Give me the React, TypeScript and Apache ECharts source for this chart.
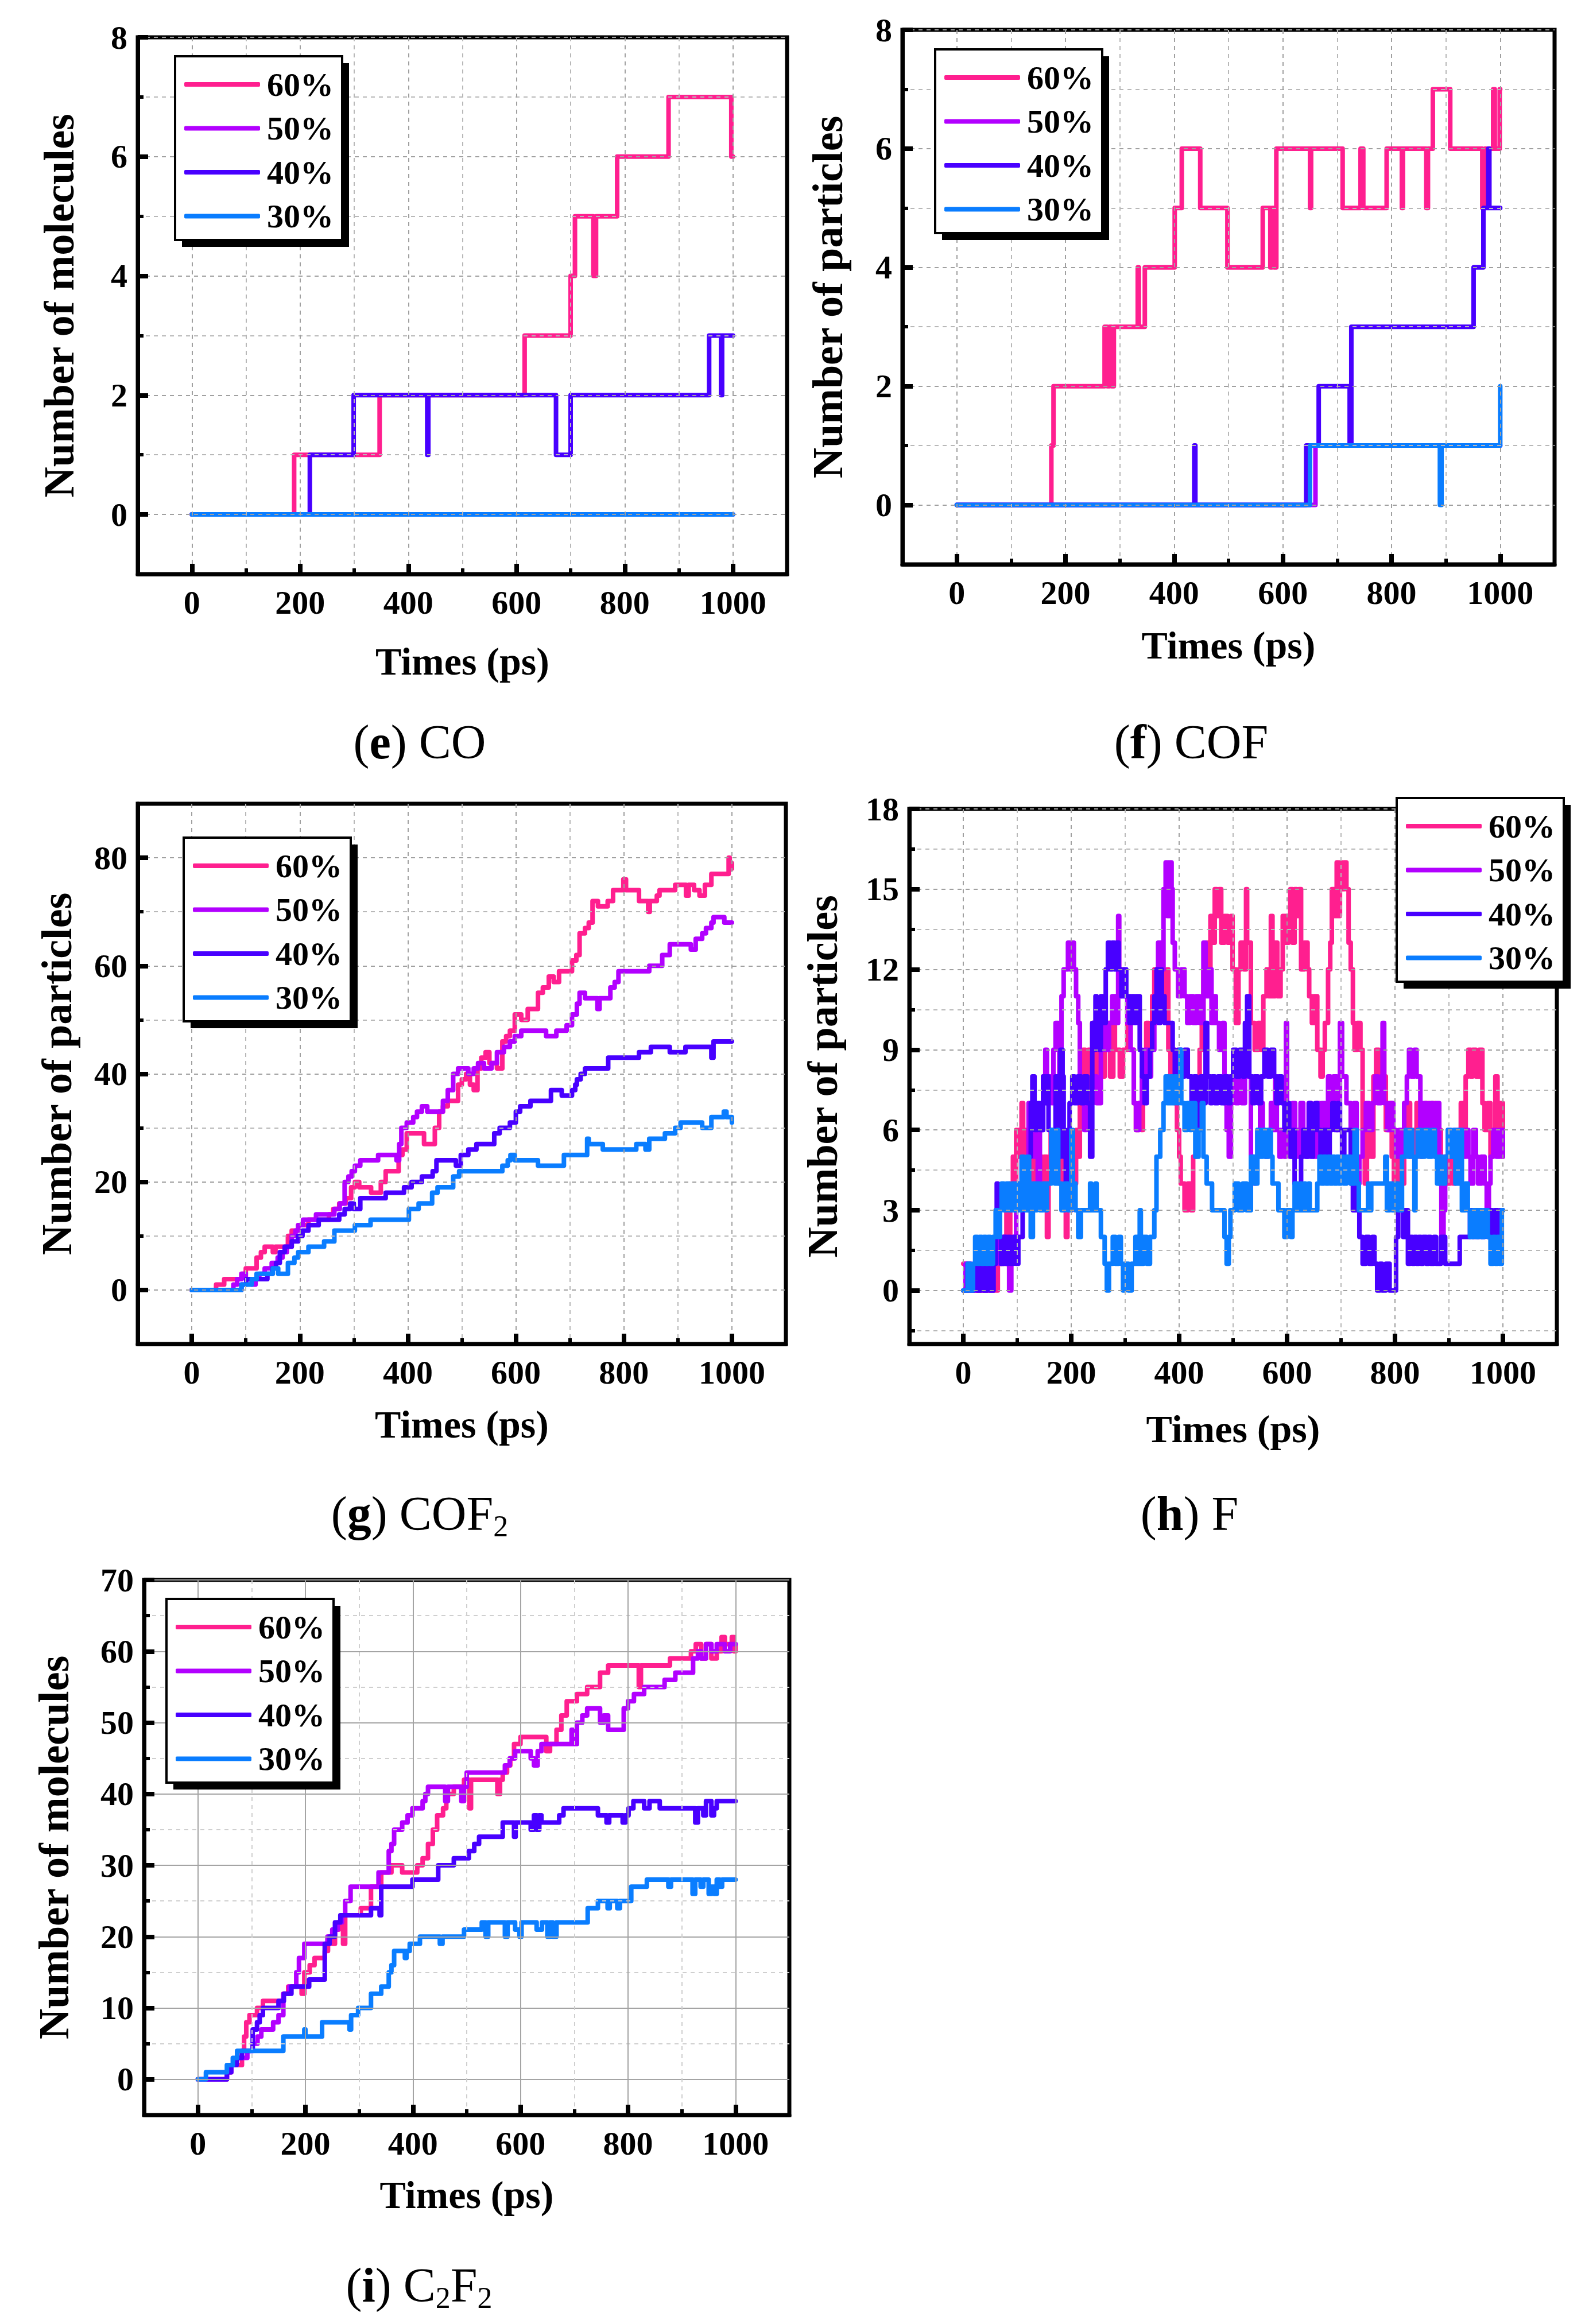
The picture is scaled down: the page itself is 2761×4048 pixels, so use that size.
import React, { useEffect, useRef } from 'react';
import * as echarts from 'echarts';

const FONT = "'Liberation Serif', 'Times New Roman', Times, serif";

// ---- categories / legend ----
const SERIES_NAMES = ['60%', '50%', '40%', '30%'];
const SERIES_COLORS = ['#ff1f8f', '#b200ff', '#4800ff', '#0a7dff'];

// ---- tick values ----
const X_TICKS = [0, 100, 200, 300, 400, 500, 600, 700, 800, 900, 1000];
const X_LABELS = [0, 200, 400, 600, 800, 1000];
const Y8_TICKS = [0, 1, 2, 3, 4, 5, 6, 7, 8];
const Y8_LABELS = [0, 2, 4, 6, 8];
const Y90_TICKS = [0, 10, 20, 30, 40, 50, 60, 70, 80];
const Y90_LABELS = [0, 20, 40, 60, 80];
const Y18_TICKS = [-1.5, 0, 1.5, 3, 4.5, 6, 7.5, 9, 10.5, 12, 13.5, 15, 16.5, 18];
const Y18_LABELS = [0, 3, 6, 9, 12, 15, 18];
const Y70_TICKS = [0, 5, 10, 15, 20, 25, 30, 35, 40, 45, 50, 55, 60, 65, 70];
const Y70_LABELS = [0, 10, 20, 30, 40, 50, 60, 70];

// ---- (e) CO ----
const CO_60 = [[0,0],[189,1],[347,2],[615,3],[700,4],[708,5],[742,4],[747,5],[786,6],[881,7],[997,6],[1000,6]];
const CO_50 = [[0,0],[1000,0]];
const CO_40 = [[0,0],[218,1],[299,2],[435,1],[437,2],[673,1],[700,2],[956,3],[978,2],[980,3],[1000,3]];
const CO_30 = [[0,0],[1000,0]];

// ---- (f) COF ----
const COF_60 = [[0,0],[174,1],[178,2],[272,3],[277,2],[281,3],[285,2],[289,3],[333,4],[335,3],[346,4],[401,5],[414,6],[448,5],[498,4],[563,5],[577,4],[580,5],[584,4],[588,6],[650,5],[652,6],[710,5],[743,6],[748,5],[791,6],[819,5],[821,6],[864,5],[867,6],[876,7],[908,6],[967,5],[972,6],[987,7],[990,6],[999,7],[1000,7]];
const COF_50 = [[0,0],[660,1],[1000,1]];
const COF_40 = [[0,0],[437,1],[439,0],[643,1],[666,2],[723,1],[726,3],[951,4],[969,5],[978,6],[980,5],[1000,5]];
const COF_30 = [[0,0],[650,1],[889,0],[892,1],[1000,2]];

// ---- (g) COF2 ----
const COF2_60 = [[0,0],[45,1],[60,2],[80,2],[92,3],[100,4],[111,4],[120,6],[128,7],[135,8],[150,7],[155,8],[178,10],[185,11],[197,12],[216,13],[240,13],[254,14],[262,15],[273,16],[285,17],[295,19],[302,20],[310,19],[321,19],[332,18],[340,18],[350,20],[359,22],[370,22],[383,25],[390,26],[398,29],[407,29],[420,29],[430,27],[436,27],[450,30],[458,33],[465,34],[474,35],[483,35],[493,38],[500,39],[508,40],[515,38],[522,37],[529,41],[536,43],[544,44],[551,42],[565,41],[575,46],[582,47],[589,48],[598,51],[610,50],[622,52],[632,52],[641,55],[650,56],[661,58],[670,57],[680,59],[695,59],[704,61],[712,62],[718,66],[728,67],[735,68],[742,72],[752,71],[761,71],[770,72],[780,74],[794,74],[799,76],[804,74],[815,74],[828,72],[840,72],[845,70],[848,72],[861,73],[866,74],[880,74],[895,75],[905,75],[915,73],[920,75],[930,74],[940,73],[950,75],[962,77],[980,77],[990,77],[994,80],[996,78],[1000,79]];
const COF2_50 = [[0,0],[77,1],[84,2],[92,3],[100,2],[111,1],[118,2],[125,3],[135,4],[148,5],[159,6],[168,7],[176,8],[185,10],[192,11],[197,12],[206,13],[216,13],[230,14],[254,14],[264,15],[274,16],[283,20],[290,21],[296,22],[302,23],[312,24],[331,24],[345,25],[370,25],[379,24],[384,27],[388,30],[398,31],[410,32],[417,33],[426,34],[436,33],[455,33],[465,35],[474,37],[484,40],[493,41],[512,40],[522,41],[530,42],[541,41],[555,42],[565,44],[578,45],[589,46],[598,47],[610,48],[640,48],[656,47],[675,48],[694,49],[704,51],[713,53],[718,55],[728,54],[745,54],[751,52],[755,54],[775,56],[783,57],[790,59],[799,59],[820,59],[847,60],[871,62],[885,64],[924,63],[933,65],[945,66],[952,67],[962,68],[966,69],[981,69],[986,68],[1000,68]];
const COF2_40 = [[0,0],[92,1],[101,2],[140,3],[149,4],[156,5],[163,7],[172,8],[185,9],[197,10],[205,11],[216,12],[235,13],[255,13],[273,14],[283,15],[293,16],[300,15],[312,17],[359,18],[393,19],[407,20],[426,21],[446,22],[453,24],[460,24],[480,24],[489,23],[498,25],[512,26],[527,27],[560,29],[570,30],[589,31],[600,33],[608,34],[627,35],[665,37],[685,36],[704,37],[710,38],[713,39],[720,40],[728,41],[771,43],[828,44],[850,45],[885,44],[914,45],[962,43],[966,46],[1000,46]];
const COF2_30 = [[0,0],[92,1],[111,2],[120,3],[140,3],[150,4],[160,3],[178,5],[190,6],[197,7],[216,8],[245,9],[264,11],[302,12],[331,13],[402,15],[420,16],[436,16],[445,18],[455,19],[484,21],[495,22],[575,23],[585,24],[590,25],[598,24],[641,23],[689,25],[732,28],[735,27],[761,26],[823,27],[840,26],[847,28],[876,29],[895,30],[905,31],[924,31],[945,30],[962,32],[985,33],[990,32],[1000,31]];

// ---- (h) F ----
const F_60 = [[0,1],[6,0],[48,1],[58,0],[64,1],[71,2],[76,1],[80,3],[84,2],[87,4],[92,5],[96,4],[98,6],[104,5],[108,7],[111,5],[113,6],[120,5],[126,4],[132,5],[136,4],[140,5],[146,4],[150,5],[155,2],[158,5],[162,6],[168,5],[174,6],[178,4],[184,5],[190,2],[193,3],[201,5],[205,4],[209,6],[214,5],[216,7],[222,9],[226,8],[232,9],[236,7],[239,10],[244,8],[251,9],[256,8],[262,9],[266,10],[272,8],[278,10],[281,9],[290,8],[296,9],[304,10],[310,9],[316,7],[320,6],[325,7],[330,6],[333,8],[339,10],[344,9],[350,11],[354,12],[360,11],[366,12],[372,11],[378,12],[380,9],[384,8],[388,9],[392,7],[396,6],[400,5],[403,4],[410,3],[416,4],[422,3],[426,5],[432,6],[438,9],[442,10],[445,12],[450,13],[455,12],[458,14],[461,13],[466,15],[470,14],[474,15],[478,13],[484,14],[490,13],[496,14],[499,12],[505,10],[510,12],[514,13],[520,12],[524,15],[526,13],[533,10],[540,9],[546,10],[552,9],[556,11],[562,12],[566,11],[570,14],[573,11],[578,13],[582,11],[588,12],[592,14],[598,13],[603,14],[606,15],[610,13],[614,15],[618,14],[622,15],[626,12],[632,13],[638,12],[641,11],[646,10],[650,11],[656,9],[662,8],[666,9],[670,10],[676,12],[680,13],[683,15],[688,14],[692,16],[695,14],[698,16],[702,15],[706,16],[710,15],[714,13],[718,12],[722,10],[725,9],[730,10],[736,9],[740,6],[744,4],[748,5],[752,6],[756,5],[760,8],[765,9],[770,8],[776,9],[780,8],[783,6],[788,7],[794,5],[798,4],[805,5],[810,4],[817,6],[822,7],[828,5],[834,6],[840,7],[846,5],[851,6],[856,7],[862,6],[868,7],[874,5],[878,6],[885,4],[890,5],[896,4],[902,5],[908,4],[912,5],[916,6],[922,7],[926,6],[931,8],[936,9],[940,8],[944,9],[950,8],[956,9],[962,7],[966,6],[972,7],[977,5],[981,6],[986,8],[990,6],[994,7],[998,5],[1000,7]];
const F_50 = [[0,0],[4,1],[10,0],[56,1],[62,2],[68,1],[75,2],[80,1],[85,0],[89,1],[92,2],[98,3],[104,4],[108,3],[114,4],[117,3],[121,7],[124,6],[129,5],[134,6],[138,4],[142,6],[148,8],[152,9],[155,7],[160,8],[164,7],[167,9],[171,10],[176,9],[178,8],[182,11],[186,12],[194,13],[198,12],[201,13],[205,12],[209,11],[213,10],[216,8],[220,7],[224,6],[228,7],[232,6],[235,7],[240,8],[247,7],[255,9],[260,10],[266,9],[270,10],[276,11],[282,10],[287,14],[289,11],[294,12],[298,11],[304,10],[310,9],[316,7],[320,6],[326,7],[331,8],[336,9],[342,8],[348,9],[354,10],[358,11],[361,13],[366,12],[371,15],[375,16],[378,14],[382,16],[386,15],[388,13],[392,12],[398,11],[404,12],[410,11],[415,10],[420,11],[426,10],[432,11],[438,10],[445,13],[449,11],[455,12],[460,10],[465,11],[468,10],[474,9],[480,10],[484,7],[488,6],[492,5],[496,7],[499,8],[505,7],[510,8],[516,7],[522,9],[528,8],[533,5],[538,4],[542,5],[545,6],[550,7],[555,6],[560,5],[565,6],[570,7],[573,6],[578,8],[581,6],[586,5],[590,6],[595,5],[598,10],[600,6],[605,5],[610,7],[615,6],[620,5],[625,7],[630,6],[636,5],[640,7],[645,6],[650,5],[655,7],[660,6],[664,7],[670,6],[676,8],[680,7],[686,8],[692,6],[698,10],[702,8],[710,7],[718,6],[724,7],[729,4],[734,5],[740,6],[746,7],[752,6],[758,7],[763,8],[768,7],[774,8],[777,10],[780,7],[786,6],[792,7],[797,6],[802,5],[808,6],[812,5],[817,7],[822,8],[826,9],[830,8],[836,9],[840,8],[847,6],[852,7],[858,6],[864,7],[870,6],[876,7],[882,4],[886,2],[890,3],[893,5],[898,6],[904,5],[910,6],[916,5],[922,6],[928,5],[931,6],[936,5],[940,4],[945,6],[950,5],[954,4],[960,5],[966,4],[970,3],[974,4],[977,5],[982,6],[988,5],[994,6],[1000,5]];
const F_40 = [[0,0],[8,1],[14,0],[20,1],[26,0],[32,1],[38,0],[44,1],[50,0],[56,1],[60,2],[62,4],[64,2],[70,1],[75,2],[79,1],[83,2],[88,1],[93,2],[98,1],[102,2],[110,3],[114,4],[118,3],[121,5],[125,7],[128,8],[132,6],[138,7],[142,6],[148,8],[152,7],[155,8],[158,6],[163,5],[167,6],[171,8],[175,7],[178,5],[180,9],[184,8],[186,5],[190,4],[193,6],[197,7],[202,8],[206,7],[212,8],[218,7],[224,8],[230,7],[235,5],[239,10],[243,9],[245,11],[247,10],[252,9],[255,11],[258,10],[264,12],[268,13],[272,12],[276,13],[280,12],[284,13],[288,12],[293,11],[298,12],[302,11],[308,10],[312,11],[316,10],[320,11],[327,9],[331,8],[336,7],[340,8],[346,9],[350,10],[354,11],[358,12],[362,10],[365,12],[368,11],[373,10],[388,9],[392,8],[398,9],[404,8],[410,9],[416,8],[423,7],[428,8],[432,6],[436,7],[440,8],[445,7],[449,10],[452,8],[458,7],[461,8],[466,7],[472,8],[478,7],[484,8],[490,7],[495,8],[500,9],[506,8],[512,9],[518,8],[522,10],[526,11],[530,8],[536,7],[540,8],[546,7],[552,8],[558,9],[564,8],[570,9],[576,8],[580,7],[585,8],[590,7],[595,6],[600,7],[604,6],[607,5],[611,6],[614,4],[618,3],[622,4],[626,5],[630,6],[634,5],[638,6],[641,7],[644,5],[648,6],[652,7],[656,6],[662,5],[668,6],[674,5],[679,6],[684,7],[688,6],[694,7],[698,6],[702,5],[706,6],[718,4],[722,3],[726,4],[729,3],[734,2],[740,1],[746,2],[752,1],[758,2],[762,1],[767,0],[772,1],[776,0],[783,1],[790,0],[802,2],[806,3],[815,2],[818,3],[824,1],[828,2],[832,1],[836,2],[840,1],[844,2],[848,1],[852,2],[858,1],[862,2],[866,1],[872,2],[876,1],[885,2],[893,1],[920,2],[939,3],[944,2],[948,3],[952,2],[956,3],[960,2],[966,3],[972,2],[976,3],[980,2],[985,3],[990,2],[995,3],[1000,3]];
const F_30 = [[0,0],[8,1],[12,0],[18,1],[22,2],[26,1],[30,2],[34,1],[38,2],[42,1],[46,2],[50,1],[55,2],[60,3],[64,2],[68,3],[71,4],[75,3],[80,4],[85,3],[90,4],[94,3],[98,4],[102,3],[108,5],[112,4],[115,3],[118,5],[122,4],[125,2],[129,4],[133,3],[136,4],[142,3],[148,4],[152,3],[155,4],[163,6],[166,5],[170,4],[174,6],[176,4],[182,3],[188,4],[194,3],[200,6],[203,4],[208,3],[213,2],[218,3],[235,4],[237,3],[245,4],[247,3],[255,2],[262,1],[266,0],[270,1],[277,2],[282,1],[288,2],[292,1],[296,0],[300,1],[306,0],[312,1],[319,2],[322,1],[327,3],[329,1],[334,2],[340,1],[346,2],[354,3],[358,5],[365,6],[371,7],[375,8],[380,7],[385,8],[388,7],[392,8],[396,7],[400,8],[402,9],[404,7],[410,6],[415,7],[420,6],[423,7],[430,5],[436,6],[442,7],[445,5],[451,4],[461,3],[484,2],[488,1],[492,2],[495,3],[503,4],[510,3],[518,4],[525,3],[533,5],[540,4],[545,6],[550,5],[555,6],[560,5],[565,6],[570,5],[573,4],[584,3],[595,2],[600,3],[607,2],[610,3],[614,4],[618,3],[625,4],[627,3],[632,4],[634,3],[640,4],[642,3],[656,4],[660,5],[664,4],[668,5],[672,4],[676,5],[680,4],[684,5],[688,4],[692,5],[696,4],[700,5],[705,4],[710,5],[718,4],[725,6],[729,4],[733,3],[750,4],[752,3],[756,4],[782,5],[785,3],[790,4],[795,3],[800,4],[806,3],[813,5],[820,6],[824,5],[828,6],[832,5],[836,3],[838,5],[842,6],[848,5],[855,6],[862,5],[868,6],[874,5],[878,4],[883,5],[888,4],[893,5],[898,6],[903,5],[908,6],[912,4],[918,6],[924,3],[930,4],[935,3],[939,2],[945,3],[950,2],[955,3],[960,2],[965,3],[972,2],[977,1],[982,2],[986,1],[990,2],[994,1],[998,3],[1000,3]];

// ---- (i) C2F2 ----
const C2F2_60 = [[0,0],[54,1],[62,2],[82,4],[86,6],[90,8],[96,9],[110,10],[121,11],[159,12],[168,13],[193,12],[198,15],[208,16],[217,17],[236,18],[242,20],[250,19],[255,21],[262,22],[270,19],[274,23],[303,24],[322,27],[341,29],[360,30],[380,29],[408,30],[418,31],[428,33],[437,35],[445,37],[456,38],[462,40],[476,41],[495,42],[505,38],[508,42],[557,40],[562,42],[567,43],[575,44],[581,45],[588,47],[600,48],[648,46],[655,47],[667,49],[676,51],[686,53],[705,54],[724,55],[748,57],[763,58],[820,55],[824,58],[878,59],[917,60],[926,61],[936,59],[945,61],[955,59],[965,60],[974,62],[980,61],[993,62],[997,60],[1000,61]];
const C2F2_50 = [[0,0],[54,1],[62,2],[72,3],[92,4],[102,5],[111,6],[118,7],[140,8],[150,9],[159,12],[170,13],[183,15],[188,17],[198,19],[241,20],[250,21],[260,22],[268,23],[274,25],[284,27],[336,29],[355,32],[360,33],[365,35],[380,36],[390,37],[399,38],[418,39],[423,40],[428,41],[460,39],[465,41],[490,39],[495,41],[500,43],[571,44],[580,45],[590,46],[619,45],[625,44],[632,46],[639,47],[695,49],[698,47],[705,50],[715,51],[724,52],[748,50],[755,51],[763,49],[792,52],[800,53],[811,54],[830,55],[868,56],[888,57],[921,59],[930,60],[936,59],[945,61],[955,60],[965,61],[980,60],[990,61],[1000,61]];
const C2F2_40 = [[0,0],[54,1],[62,2],[72,3],[82,4],[102,7],[110,8],[115,9],[121,10],[150,11],[160,12],[174,13],[207,14],[236,19],[245,20],[255,22],[265,23],[322,24],[338,23],[341,27],[399,28],[447,30],[476,31],[504,32],[514,33],[523,34],[567,36],[588,34],[591,36],[619,35],[625,37],[630,35],[635,37],[639,36],[672,37],[680,38],[744,37],[760,36],[765,37],[790,36],[795,37],[801,38],[810,39],[830,38],[840,39],[859,38],[917,38],[925,36],[930,38],[940,37],[945,39],[955,37],[960,38],[965,39],[1000,39]];
const C2F2_30 = [[0,0],[15,1],[54,2],[65,3],[73,4],[159,6],[198,7],[200,6],[231,8],[282,7],[285,9],[298,10],[322,12],[341,13],[355,15],[360,16],[365,18],[385,17],[388,18],[394,19],[413,20],[450,19],[455,20],[495,21],[528,22],[535,20],[540,22],[571,20],[576,22],[590,21],[598,20],[602,22],[630,21],[640,22],[650,20],[655,22],[660,20],[667,22],[725,24],[744,25],[762,24],[766,25],[780,24],[785,25],[806,27],[835,28],[875,27],[880,28],[920,26],[925,28],[935,27],[940,28],[950,26],[955,27],[960,26],[965,28],[970,27],[975,28],[1000,28]];

const CAPTION_RICH = {
  p: { fontSize: 84, fontFamily: FONT, fontWeight: 'normal', lineHeight: 100, fill: '#000', color: '#000' },
  b: { fontSize: 84, fontFamily: FONT, fontWeight: 'bold', lineHeight: 100, fill: '#000', color: '#000' },
  s: { fontSize: 52, fontFamily: FONT, fontWeight: 'normal', lineHeight: 56, padding: [44, 0, 0, 0], fill: '#000', color: '#000' },
};

const PANELS = [
  { l: 240, t: 65, r: 1371, b: 1000, yMin: -1, yMax: 8, yTicks: Y8_TICKS, yLabels: Y8_LABELS, yName: 'Number of molecules', yGap: 100, xGap: 118,
    data: [CO_60, CO_50, CO_40, CO_30], box: [305, 98], caption: '{p|(}{b|e}{p|) CO}', cap: [731, 1292], solid: false },
  { l: 1572, t: 52, r: 2708, b: 983, yMin: -1, yMax: 8, yTicks: Y8_TICKS, yLabels: Y8_LABELS, yName: 'Number of particles', yGap: 93, xGap: 107,
    data: [COF_60, COF_50, COF_40, COF_30], box: [1629, 86], caption: '{p|(}{b|f}{p|) COF}', cap: [2075, 1292], solid: false },
  { l: 240, t: 1400, r: 1369, b: 2341, yMin: -10, yMax: 90, yTicks: Y90_TICKS, yLabels: Y90_LABELS, yName: 'Number of particles', yGap: 104, xGap: 106,
    data: [COF2_60, COF2_50, COF2_40, COF2_30], box: [320, 1459], caption: '{p|(}{b|g}{p|) COF}{s|2}', cap: [731, 2636], solid: false },
  { l: 1584, t: 1409, r: 2712, b: 2341, yMin: -2, yMax: 18, yTicks: Y18_TICKS, yLabels: Y18_LABELS, yName: 'Number of particles', yGap: 114, xGap: 114,
    data: [F_60, F_50, F_40, F_30], box: [2433, 1390], caption: '{p|(}{b|h}{p|) F}', cap: [2072, 2636], solid: false },
  { l: 251, t: 2752, r: 1375, b: 3684, yMin: -5, yMax: 70, yTicks: Y70_TICKS, yLabels: Y70_LABELS, yName: 'Number of molecules', yGap: 120, xGap: 105,
    data: [C2F2_60, C2F2_50, C2F2_40, C2F2_30], box: [290, 2785], caption: '{p|(}{b|i}{p|) C}{s|2}{p|F}{s|2}', cap: [730, 3980], solid: true },
];

const BOX_W = 291;
const BOX_H = 320;

function buildOption() {
  const grid: any[] = [];
  const xAxis: any[] = [];
  const yAxis: any[] = [];
  const series: any[] = [];
  const legend: any[] = [];
  const graphic: any[] = [];
  const labelFont = { fontSize: 58, fontWeight: 'bold', fontFamily: FONT, color: '#000' };
  const fmt = (v: number) => String(v);

  PANELS.forEach((p, gi) => {
    grid.push({ left: p.l, top: p.t, width: p.r - p.l, height: p.b - p.t, show: true, borderColor: '#000', borderWidth: 7, backgroundColor: 'transparent', containLabel: false });
    const minorSplit = p.solid
      ? { show: true, lineStyle: { color: '#cfcfcf', width: 2, type: [7, 7] } }
      : { show: true, lineStyle: { color: '#b8b8b8', width: 2, type: [7, 7] } };
    const majorSplit = p.solid
      ? { show: true, lineStyle: { color: '#a4a4a4', width: 2, type: 'solid' } }
      : { show: true, lineStyle: { color: '#a0a0a0', width: 2, type: [7, 7] } };
    // main x axis
    xAxis.push({
      type: 'value', gridIndex: gi, min: -100, max: 1100, position: 'bottom',
      name: 'Times (ps)', nameLocation: 'middle', nameGap: p.xGap,
      nameTextStyle: { fontSize: 68, fontWeight: 'bold', fontFamily: FONT, color: '#000', lineHeight: 68 },
      axisLine: { show: true, onZero: false, lineStyle: { color: '#000', width: 7 } },
      axisTick: { show: true, inside: true, length: 10, customValues: X_TICKS, lineStyle: { color: '#000', width: 6 } },
      axisLabel: { show: true, customValues: X_LABELS, margin: 20, formatter: fmt, ...labelFont },
      splitLine: minorSplit, z: 3,
    });
    // major tick overlay x
    xAxis.push({
      type: 'value', gridIndex: gi, min: -100, max: 1100, position: 'bottom',
      axisLine: { show: false, onZero: false },
      axisTick: { show: true, inside: true, length: 18, customValues: X_LABELS, lineStyle: { color: '#000', width: 8 } },
      axisLabel: { show: false },
      splitLine: majorSplit, z: 3,
    });
    yAxis.push({
      type: 'value', gridIndex: gi, min: p.yMin, max: p.yMax, position: 'left',
      name: p.yName, nameLocation: 'middle', nameGap: p.yGap,
      nameTextStyle: { fontSize: 74, fontWeight: 'bold', fontFamily: FONT, color: '#000', lineHeight: 74 },
      axisLine: { show: true, onZero: false, lineStyle: { color: '#000', width: 7 } },
      axisTick: { show: true, inside: true, length: 10, customValues: p.yTicks, lineStyle: { color: '#000', width: 6 } },
      axisLabel: { show: true, customValues: p.yLabels, margin: 18, formatter: fmt, ...labelFont },
      splitLine: minorSplit, z: 3,
    });
    yAxis.push({
      type: 'value', gridIndex: gi, min: p.yMin, max: p.yMax, position: 'left', offset: 0,
      axisLine: { show: false, onZero: false },
      axisTick: { show: true, inside: true, length: 18, customValues: p.yLabels, lineStyle: { color: '#000', width: 8 } },
      axisLabel: { show: false },
      splitLine: majorSplit, z: 3,
    });
    p.data.forEach((d, si) => {
      series.push({
        type: 'line', name: SERIES_NAMES[si], xAxisIndex: gi * 2, yAxisIndex: gi * 2,
        data: d, step: 'end', symbol: 'none', showSymbol: false,
        color: SERIES_COLORS[si], itemStyle: { color: SERIES_COLORS[si] },
        lineStyle: { color: SERIES_COLORS[si], width: 8, cap: 'round', join: 'round' }, z: 2 + si * 0.01,
      });
    });
    const [bx, by] = p.box;
    graphic.push({ type: 'rect', z: 5, shape: { x: bx + 12, y: by + 12, width: BOX_W, height: BOX_H }, style: { fill: '#000' } });
    graphic.push({ type: 'rect', z: 6, shape: { x: bx, y: by, width: BOX_W, height: BOX_H }, style: { fill: '#fff', stroke: '#000', lineWidth: 4 } });
    legend.push({
      show: true, orient: 'vertical', left: bx + 16, top: by + 19, padding: 0, itemGap: 16.5,
      itemWidth: 132, itemHeight: 8, icon: 'roundRect', data: SERIES_NAMES, selectedMode: false, z: 10,
      textStyle: { fontSize: 58, fontWeight: 'bold', fontFamily: FONT, color: '#000', lineHeight: 60, padding: [0, 0, 0, 7] },
    });
    graphic.push({
      type: 'text', z: 10, x: p.cap[0], y: p.cap[1],
      style: { text: p.caption, rich: CAPTION_RICH, x: 0, y: 0, align: 'center', verticalAlign: 'middle', textAlign: 'center', textVerticalAlign: 'middle', fontSize: 84, fontFamily: FONT, fill: '#000' },
    });
  });

  return {
    animation: false,
    backgroundColor: '#fff',
    grid, xAxis, yAxis, series, legend, graphic,
  };
}

export default function App() {
  const ref = useRef<HTMLDivElement | null>(null);
  useEffect(() => {
    if (!ref.current) return;
    const chart = echarts.init(ref.current, undefined, { renderer: 'svg' });
    chart.setOption(buildOption() as any);
    return () => chart.dispose();
  }, []);
  return (
    <div
      ref={ref}
      style={{ position: 'absolute', left: 0, top: 0, width: 2761, height: 4048, background: '#fff' }}
    />
  );
}
